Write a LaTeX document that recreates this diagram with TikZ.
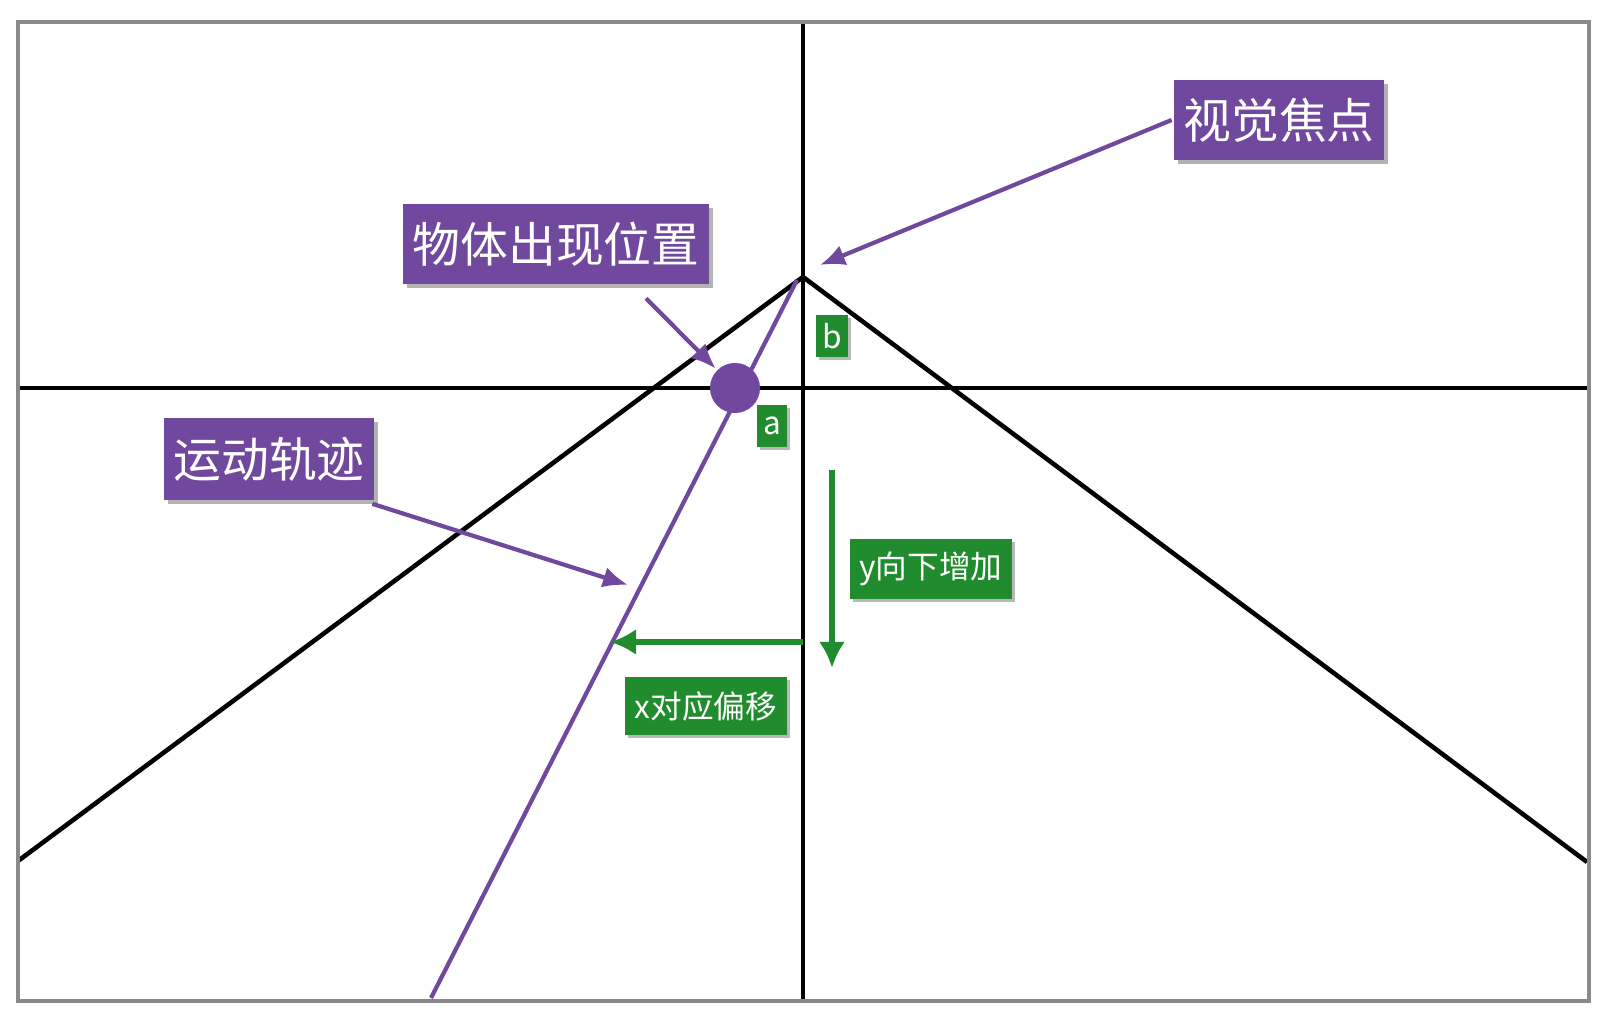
\documentclass[tikz,border=0pt]{standalone}
\usepackage{fontspec}
\newfontfamily\cjk{Noto Sans CJK SC}
\usetikzlibrary{arrows.meta,shadows}
\definecolor{vpurple}{RGB}{112,72,158}
\definecolor{vgreen}{RGB}{32,140,45}
\definecolor{vgrey}{RGB}{136,138,140}

\begin{document}
\begin{tikzpicture}[x=0.01cm, y=-0.01cm, line width=1.3pt,
  tag/.style={fill=vpurple, text=white, inner sep=0pt,
    font=\cjk\fontsize{13.6}{16}\selectfont,
    drop shadow={shadow xshift=0.04cm, shadow yshift=-0.04cm, opacity=0.6}},
  gtag/.style={fill=vgreen, text=white, inner sep=0pt,
    font=\cjk\fontsize{9}{11}\selectfont,
    drop shadow={shadow xshift=0.03cm, shadow yshift=-0.03cm, opacity=0.55}},
  parrow/.style={vpurple, line width=1.2pt, -{Latex[length=0.25cm,width=0.21cm]}},
  garrow/.style={vgreen, line width=1.5pt, -{Latex[length=0.26cm,width=0.26cm]}}]
\useasboundingbox (0,0) rectangle (1620,1034);

% axes and perspective lines
\coordinate (vp) at (803,277);
\coordinate (lo) at (18,861);
\coordinate (ro) at (1587,862);
\draw (803,22) -- (803,1001);
\draw (18,388) -- (1589,388);
\draw (lo) -- (vp) -- (ro);

% trajectory and object
\coordinate (ts) at (797,280);
\coordinate (te) at (431,998);
\draw[vpurple, line width=1.2pt] (ts) -- (te);
\node (obj) [circle, fill=vpurple, minimum size=0.5cm, inner sep=0pt] at (735,388) {};

% frame
\draw[vgrey] (18,22) rectangle (1589,1001);

% labels
\node (focus) [tag, minimum width=2.1cm, minimum height=0.8cm] at (1279,120) {视觉焦点};
\node (appear) [tag, minimum width=3.06cm, minimum height=0.8cm] at (556,244) {物体出现位置};
\node (track) [tag, minimum width=2.1cm, minimum height=0.81cm] at (269,459) {运动轨迹};
\node (b) [gtag, minimum width=0.32cm, minimum height=0.42cm] at (832,336) {b};
\node (a) [gtag, minimum width=0.3cm, minimum height=0.41cm] at (772,426) {a};
\node (ylab) [gtag, minimum width=1.62cm, minimum height=0.6cm] at (931,569) {y向下增加};
\node (xlab) [gtag, minimum width=1.62cm, minimum height=0.58cm] at (706,706) {x对应偏移};

% pointers
\coordinate (fp) at (820,265);
\coordinate (tp) at (628,585);
\draw[parrow] (focus.west) -- (fp);
\draw[parrow] ([xshift=0.9cm, yshift=-0.12cm]appear.south) -- (obj);
\draw[parrow] ([xshift=-0.04cm, yshift=-0.02cm]track.south east) -- (tp);

% offsets
\coordinate (ys) at (832,470);
\coordinate (ye) at (832,668);
\coordinate (xs) at (803,642);
\coordinate (xe) at (610,642);
\draw[garrow] (ys) -- (ye);
\draw[garrow] (xs) -- (xe);
\end{tikzpicture}
\end{document}
